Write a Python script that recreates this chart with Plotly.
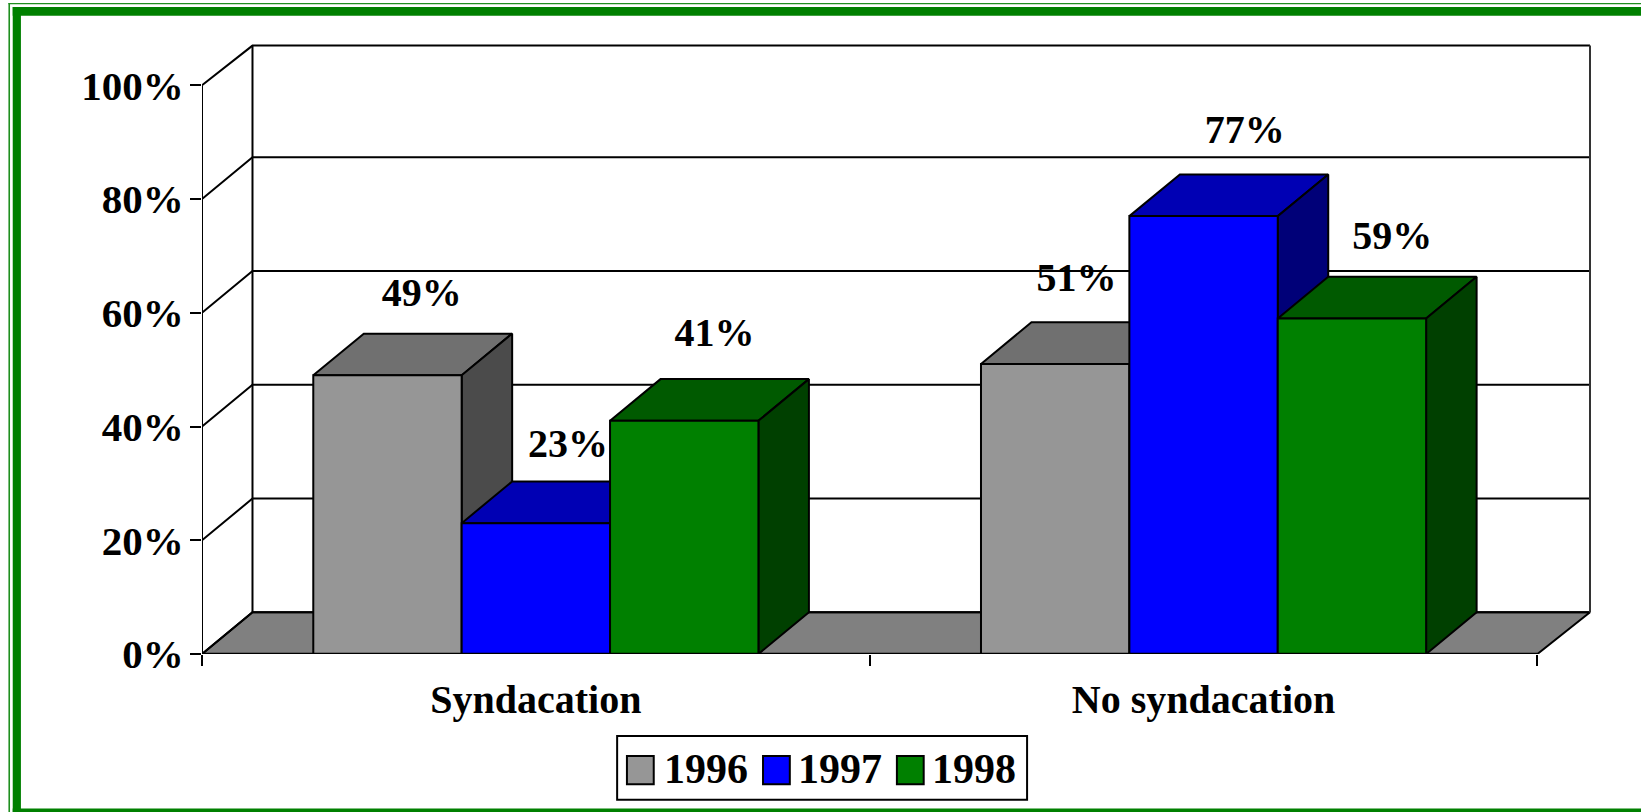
import plotly.graph_objects as go

categories = ["Syndacation", "No syndacation"]
years = ["1996", "1997", "1998"]
values_1996 = [49, 51]
values_1997 = [23, 77]
values_1998 = [41, 59]
y_ticks = [0, 20, 40, 60, 80, 100]

series = {"1996": values_1996, "1997": values_1997, "1998": values_1998}
front_colors = {"1996": "#969696", "1997": "#0000ff", "1998": "#008000"}
top_colors = {"1996": "#707070", "1997": "#0000b4", "1998": "#005a00"}
side_colors = {"1996": "#4b4b4b", "1997": "#000078", "1998": "#004000"}

# label nudges in pixels from the back-top centre of each bar (moved by hand in the original)
nudge_x = {"1996": [9, -4], "1997": [7, 16], "1998": [5, 15]}
nudge_y = {"1996": [38, 41], "1997": [34, 41], "1998": [43, 38]}

W, H = 1641, 812
L, R, T, B = 201.8, 1596.0, 40.0, 653.7
FONT = "Liberation Serif"
INK = "#000000"
LW = 2

px_per_x = (1537.4 - 201.8) / 2
px_per_y = (653.7 - 85.3) / 100
depth_x = 50.5 / px_per_x
depth_y = 41.7 / px_per_y
wall_extra = 2.1 / px_per_x
wall_top_drop = 2.0 / px_per_y
bar_w = 1 / 4.5
x_max = (R - L) / px_per_x
y_max = (B - T) / px_per_y


def paper_x(px):
    return (px - L) / (R - L)


def paper_y(px):
    return (B - px) / (B - T)


fig = go.Figure()


def poly(xs, ys, fill, width=LW, line=INK, closed=True):
    fig.add_trace(go.Scatter(
        x=xs, y=ys, mode="lines", fill="toself" if closed else "none",
        fillcolor=fill, line=dict(color=line, width=width),
        cliponaxis=False, showlegend=False, hoverinfo="skip"))


back_right = 2 + depth_x + wall_extra
wall_top = 100 + depth_y - wall_top_drop

# floor
poly([0, 2, back_right, depth_x, 0], [0, 0, depth_y, depth_y, 0], "#808080")

# back wall and grid lines
for t in y_ticks[:-1]:
    poly([0, depth_x, back_right], [t, t + depth_y, t + depth_y], None, closed=False)
poly([0, depth_x, back_right], [100, wall_top, wall_top], None, closed=False)
poly([depth_x, depth_x], [depth_y, wall_top], None, closed=False)
poly([back_right, back_right], [depth_y, wall_top], None, closed=False, line="#333333")
poly([0, 0], [0, 100], None, closed=False)

# bars
for i, year in enumerate(years):
    vals = series[year]
    for c, v in enumerate(vals):
        x0 = c + 0.5 + (i - 1.5) * bar_w
        x1 = x0 + bar_w
        poly([x0, x1, x1 + depth_x, x0 + depth_x, x0],
             [v, v, v + depth_y, v + depth_y, v], top_colors[year])
        poly([x1, x1 + depth_x, x1 + depth_x, x1, x1],
             [0, depth_y, v + depth_y, v, 0], side_colors[year])
        poly([x0, x1, x1, x0, x0], [0, 0, v, v, 0], front_colors[year])

# front axis line on top of the bars
poly([0, 2], [0, 0], None, width=2.4, closed=False)

# data labels
lx, ly, lt = [], [], []
for i, year in enumerate(years):
    for c, v in enumerate(series[year]):
        lx.append(c + 0.5 + (i - 1) * bar_w + nudge_x[year][c] / px_per_x + depth_x * 0.5)
        ly.append(v + depth_y + nudge_y[year][c] / px_per_y)
        lt.append(f"{v}%")
fig.add_trace(go.Scatter(
    x=lx, y=ly, text=lt, mode="text", textposition="middle center",
    textfont=dict(family=FONT, size=40, color="#000000", weight="bold"),
    cliponaxis=False, showlegend=False, hoverinfo="skip"))

shapes = []


def rect(x0, y0, x1, y1, fill=None, line=None, width=0):
    shapes.append(dict(
        type="rect", xref="paper", yref="paper",
        x0=paper_x(x0), x1=paper_x(x1), y0=paper_y(y0), y1=paper_y(y1),
        fillcolor=fill if fill else "rgba(0,0,0,0)",
        line=dict(color=line if line else "rgba(0,0,0,0)", width=width)))


# green frame
GREEN = "#008000"
rect(12.5, 7, W, 15.7, GREEN)
rect(12.5, 7, 20.7, H, GREEN)
rect(12.5, 808, W, H, GREEN)
rect(8.2, 3, W, 4.2, "#1f8f1f")
rect(8.2, 3, 9.8, H, "#1f8f1f")

# legend
rect(617, 735.7, 1027, 799.3, "#ffffff", "#000000", 2)
annotations = []
legend_swatch_x = [626.8, 762.9, 896.8]
legend_text_x = [664.3, 798.0, 932.0]
for year, sx, tx in zip(years, legend_swatch_x, legend_text_x):
    rect(sx, 755.7, sx + 26.8, 784, front_colors[year], "#000000", 2)
    annotations.append(dict(
        xref="paper", yref="paper", x=paper_x(tx), y=paper_y(769),
        xanchor="left", yanchor="middle", text=year, showarrow=False,
        borderpad=0, borderwidth=0,
        font=dict(family=FONT, size=42, color="#000000", weight="bold")))

fig.update_layout(
    width=W, height=H, autosize=False,
    margin=dict(l=L, r=W - R, t=T, b=H - B, pad=0),
    paper_bgcolor="#ffffff", plot_bgcolor="#ffffff",
    showlegend=False, shapes=shapes, annotations=annotations,
    xaxis=dict(
        range=[0, x_max], showgrid=False, zeroline=False, showline=False,
        tickmode="array", tickvals=[0.5, 1.5], ticktext=categories,
        ticks="", ticklabelstandoff=18,
        tickfont=dict(family=FONT, size=40, color="#000000", weight="bold"),
        minor=dict(tickmode="array", tickvals=[0, 1, 2], ticks="outside", ticklen=11,
                   tickwidth=1.6, tickcolor="#000000", showgrid=False)),
    yaxis=dict(
        range=[0, y_max], showgrid=False, zeroline=False, showline=False,
        tickmode="array", tickvals=y_ticks, ticktext=[f"{t}%" for t in y_ticks],
        ticks="outside", ticklen=11, tickwidth=1.6, tickcolor="#000000",
        ticklabelstandoff=-2,
        tickfont=dict(family=FONT, size=41, color="#000000", weight="bold")),
)

fig.write_html("out.html", config={"displayModeBar": False},
               post_script="document.body.style.margin='0';document.body.style.overflow='hidden';")
